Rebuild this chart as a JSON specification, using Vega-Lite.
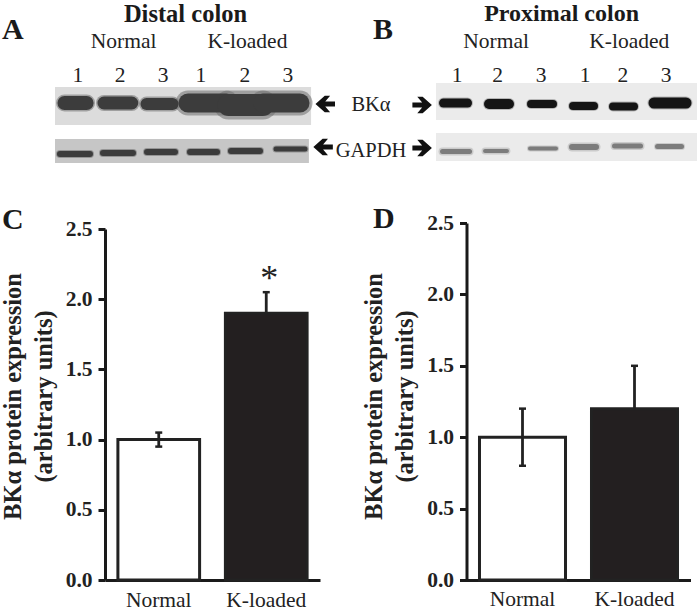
{
"$schema":"https://vega.github.io/schema/vega-lite/v6.json",
"padding":{"left":0,"top":0,"right":0,"bottom":0},
"background":"white",
"bounds":"flush",
"spacing":361.5,
"config":{"view":{"stroke":null},"text":{"font":"Liberation Serif","color":"#222222","baseline":"alphabetic"},"title":{"font":"Liberation Serif","color":"#1a1a1a"}},
"datasets":{
"a_bg":[{"protein":"BKα","x1":0.465,"x2":6.42,"y1":8.7,"y2":12.5,"tone":"BK"},{"protein":"GAPDH","x1":0.465,"x2":6.37,"y1":13.9,"y2":16.3,"tone":"G"}],
"a_bands":[
{"protein":"BKα","group":"Normal","lane":1,"start":0.686,"end":1.2,"mig":10.3,"signal":14,"spread":17},
{"protein":"BKα","group":"Normal","lane":2,"start":1.605,"end":2.25,"mig":10.3,"signal":13,"spread":16},
{"protein":"BKα","group":"Normal","lane":3,"start":2.593,"end":3.2,"mig":10.4,"signal":12,"spread":15},
{"protein":"BKα","group":"K-loaded","lane":1,"start":3.558,"end":4.45,"mig":10.3,"signal":19,"spread":25},
{"protein":"BKα","group":"K-loaded","lane":2,"start":4.5,"end":5.3,"mig":10.5,"signal":22,"spread":29},
{"protein":"BKα","group":"K-loaded","lane":3,"start":5.3,"end":6.163,"mig":10.3,"signal":19,"spread":25},
{"protein":"GAPDH","group":"Normal","lane":1,"start":0.581,"end":1.279,"mig":15.4,"signal":6,"spread":8},
{"protein":"GAPDH","group":"Normal","lane":2,"start":1.581,"end":2.279,"mig":15.3,"signal":6,"spread":8},
{"protein":"GAPDH","group":"Normal","lane":3,"start":2.605,"end":3.256,"mig":15.2,"signal":6,"spread":8},
{"protein":"GAPDH","group":"K-loaded","lane":1,"start":3.605,"end":4.233,"mig":15.2,"signal":6,"spread":8},
{"protein":"GAPDH","group":"K-loaded","lane":2,"start":4.558,"end":5.233,"mig":15.1,"signal":6,"spread":8},
{"protein":"GAPDH","group":"K-loaded","lane":3,"start":5.605,"end":6.279,"mig":14.9,"signal":5,"spread":7}],
"b_bg":[{"protein":"BKα","x1":0.5,"x2":6.714,"y1":8.3,"y2":12.0},{"protein":"GAPDH","x1":0.5,"x2":6.714,"y1":13.3,"y2":16.1}],
"b_bands":[
{"protein":"BKα","group":"Normal","lane":1,"start":0.679,"end":1.25,"mig":10.3,"signal":9,"spread":11},
{"protein":"BKα","group":"Normal","lane":2,"start":1.762,"end":2.238,"mig":10.4,"signal":10,"spread":12},
{"protein":"BKα","group":"Normal","lane":3,"start":2.762,"end":3.286,"mig":10.4,"signal":8,"spread":10},
{"protein":"BKα","group":"K-loaded","lane":1,"start":3.762,"end":4.262,"mig":10.6,"signal":8,"spread":10},
{"protein":"BKα","group":"K-loaded","lane":2,"start":4.714,"end":5.214,"mig":10.65,"signal":8,"spread":10},
{"protein":"BKα","group":"K-loaded","lane":3,"start":5.69,"end":6.452,"mig":10.3,"signal":11,"spread":13},
{"protein":"GAPDH","group":"Normal","lane":1,"start":0.655,"end":1.298,"mig":15.15,"signal":5,"spread":8},
{"protein":"GAPDH","group":"Normal","lane":2,"start":1.667,"end":2.19,"mig":15.1,"signal":4,"spread":7},
{"protein":"GAPDH","group":"Normal","lane":3,"start":2.738,"end":3.357,"mig":14.85,"signal":4,"spread":6},
{"protein":"GAPDH","group":"K-loaded","lane":1,"start":3.738,"end":4.31,"mig":14.7,"signal":6,"spread":9},
{"protein":"GAPDH","group":"K-loaded","lane":2,"start":4.75,"end":5.369,"mig":14.6,"signal":5,"spread":8},
{"protein":"GAPDH","group":"K-loaded","lane":3,"start":5.774,"end":6.345,"mig":14.65,"signal":5,"spread":7}],
"c":[{"group":"Normal","mean":1.0,"low":0.95,"high":1.05},{"group":"K-loaded","mean":1.9,"low":1.9,"high":2.05,"note":"*"}],
"d":[{"group":"Normal","mean":1.0,"low":0.8,"high":1.2},{"group":"K-loaded","mean":1.2,"low":1.2,"high":1.5}]
},
"hconcat":[
{"bounds":"flush","spacing":49,"vconcat":[
{"width":215,"height":180,
"encoding":{"x":{"type":"quantitative","scale":{"domain":[1.628,6.628],"nice":false},"axis":null},"y":{"type":"quantitative","scale":{"domain":[0,18],"reverse":true,"nice":false},"axis":null}},
"layer":[
{"data":{"name":"a_bg"},"transform":[{"filter":"datum.protein=='BKα'"}],"mark":{"type":"rect","color":"#dcdcdc"},"encoding":{"x":{"field":"x1","type":"quantitative"},"x2":{"field":"x2"},"y":{"field":"y1","type":"quantitative"},"y2":{"field":"y2"}}},
{"data":{"name":"a_bg"},"transform":[{"filter":"datum.protein=='GAPDH'"}],"mark":{"type":"rect","color":"#c6c6c6"},"encoding":{"x":{"field":"x1","type":"quantitative"},"x2":{"field":"x2"},"y":{"field":"y1","type":"quantitative"},"y2":{"field":"y2"}}},
{"data":{"name":"a_bands"},"mark":{"type":"rule","strokeCap":"round","color":"#6e6e6e","opacity":0.55},"encoding":{"x":{"field":"start","type":"quantitative"},"x2":{"field":"end"},"y":{"field":"mig","type":"quantitative"},"size":{"field":"spread","type":"quantitative","scale":{"domain":[0,40],"range":[0,40]},"legend":null}}},
{"data":{"name":"a_bands"},"mark":{"type":"rule","strokeCap":"round","color":"#3c3c3c"},"encoding":{"x":{"field":"start","type":"quantitative"},"x2":{"field":"end"},"y":{"field":"mig","type":"quantitative"},"size":{"field":"signal","type":"quantitative","scale":{"domain":[0,40],"range":[0,40]},"legend":null}}},
{"data":{"values":[{"t":"Distal colon","x":3.5,"y":2.2}]},"mark":{"type":"text","fontSize":24.5,"fontWeight":"bold","color":"#1a1a1a"},"encoding":{"x":{"field":"x","type":"quantitative"},"y":{"field":"y","type":"quantitative"},"text":{"field":"t"}}},
{"data":{"values":[{"t":"Normal","x":2.06,"y":4.8},{"t":"K-loaded","x":4.94,"y":4.8},{"t":"1","x":1,"y":8.2},{"t":"2","x":1.98,"y":8.2},{"t":"3","x":2.98,"y":8.2},{"t":"1","x":3.86,"y":8.2},{"t":"2","x":4.88,"y":8.2},{"t":"3","x":5.88,"y":8.2}]},"mark":{"type":"text","fontSize":21.5},"encoding":{"x":{"field":"x","type":"quantitative"},"y":{"field":"y","type":"quantitative"},"text":{"field":"t"}}},
{"data":{"values":[{"t":"BKα","x":7.814,"y":11.1},{"t":"GAPDH","x":7.814,"y":15.7}]},"mark":{"type":"text","fontSize":20.5},"encoding":{"x":{"field":"x","type":"quantitative"},"y":{"field":"y","type":"quantitative"},"text":{"field":"t"}}},
{"data":{"values":[{"t":"A","x":-0.77,"y":3.9}]},"mark":{"type":"text","fontSize":30,"fontWeight":"bold","align":"left","color":"#1a1a1a"},"encoding":{"x":{"field":"x","type":"quantitative"},"y":{"field":"y","type":"quantitative"},"text":{"field":"t"}}},
{"data":{"values":[{"target":"BKα","x":6.75,"y":10.4},{"target":"GAPDH","x":6.7,"y":14.7}]},"mark":{"type":"point","filled":true,"opacity":1,"size":380,"color":"#111111","strokeWidth":0,"shape":"M-1,0 L-0.05,-0.85 L0.5,-0.85 L0,-0.25 L1,-0.25 L1,0.25 L0,0.25 L0.5,0.85 L-0.05,0.85 Z"},"encoding":{"x":{"field":"x","type":"quantitative"},"y":{"field":"y","type":"quantitative"}}}
]},
{"width":215,"height":351,
"title":{"text":"C","anchor":"start","frame":"group","dx":-103,"dy":41,"offset":0,"fontSize":30,"fontWeight":"bold","baseline":"alphabetic"},
"data":{"name":"c"},
"encoding":{"x":{"field":"group","type":"nominal","sort":["Normal","K-loaded"],"scale":{"paddingInner":0.24,"paddingOuter":0.12},"axis":{"title":null,"labelAngle":0,"labelFont":"Liberation Serif","labelFontSize":21.5,"labelColor":"#222222","ticks":false,"domainWidth":3,"domainColor":"#1a1a1a","labelPadding":9}}},
"layer":[
{"mark":{"type":"bar","strokeWidth":3,"stroke":"#222222"},"encoding":{"y":{"field":"mean","type":"quantitative","scale":{"domain":[0,2.5],"nice":false},"axis":{"values":[0,0.5,1,1.5,2,2.5],"format":".1f","title":["BKα protein expression","(arbitrary units)"],"titleFont":"Liberation Serif","titleFontSize":24.5,"titleFontWeight":"bold","titleColor":"#222222","titleLineHeight":31,"titleY":167,"titlePadding":9,"labelFont":"Liberation Serif","labelFontSize":21.5,"labelFontWeight":"bold","labelColor":"#222222","tickSize":7,"tickWidth":3,"tickColor":"#1a1a1a","domainWidth":3,"domainColor":"#1a1a1a","labelPadding":6,"grid":false}},"color":{"field":"group","type":"nominal","scale":{"domain":["Normal","K-loaded"],"range":["#ffffff","#231f20"]},"legend":null}}},
{"mark":{"type":"rule","strokeWidth":2.8,"color":"#222222"},"encoding":{"y":{"field":"low","type":"quantitative","scale":{"domain":[0,2.5],"nice":false}},"y2":{"field":"high"}}},
{"mark":{"type":"tick","size":7,"thickness":2.5,"color":"#222222","opacity":1},"encoding":{"y":{"field":"high","type":"quantitative","scale":{"domain":[0,2.5],"nice":false}}}},
{"transform":[{"filter":"datum.group=='Normal'"}],"mark":{"type":"tick","size":7,"thickness":2.5,"color":"#222222","opacity":1},"encoding":{"y":{"field":"low","type":"quantitative","scale":{"domain":[0,2.5],"nice":false}}}},
{"transform":[{"filter":"datum.note"}],"mark":{"type":"text","fontSize":36,"dx":3,"dy":-2,"baseline":"alphabetic"},"encoding":{"y":{"field":"high","type":"quantitative","scale":{"domain":[0,2.5],"nice":false}},"text":{"field":"note"}}}
]}
]},
{"bounds":"flush","spacing":43,"vconcat":[
{"width":224,"height":180,
"encoding":{"x":{"type":"quantitative","scale":{"domain":[1.226,6.559],"nice":false},"axis":null},"y":{"type":"quantitative","scale":{"domain":[0,18],"reverse":true,"nice":false},"axis":null}},
"layer":[
{"data":{"name":"b_bg"},"mark":{"type":"rect","color":"#ebebeb"},"encoding":{"x":{"field":"x1","type":"quantitative"},"x2":{"field":"x2"},"y":{"field":"y1","type":"quantitative"},"y2":{"field":"y2"}}},
{"data":{"name":"b_bands"},"transform":[{"filter":"datum.protein=='BKα'"}],"mark":{"type":"rule","strokeCap":"round","color":"#666666","opacity":0.4},"encoding":{"x":{"field":"start","type":"quantitative"},"x2":{"field":"end"},"y":{"field":"mig","type":"quantitative"},"size":{"field":"spread","type":"quantitative","scale":{"domain":[0,40],"range":[0,40]},"legend":null}}},
{"data":{"name":"b_bands"},"transform":[{"filter":"datum.protein=='BKα'"}],"mark":{"type":"rule","strokeCap":"round","color":"#141414"},"encoding":{"x":{"field":"start","type":"quantitative"},"x2":{"field":"end"},"y":{"field":"mig","type":"quantitative"},"size":{"field":"signal","type":"quantitative","scale":{"domain":[0,40],"range":[0,40]},"legend":null}}},
{"data":{"name":"b_bands"},"transform":[{"filter":"datum.protein=='GAPDH'"}],"mark":{"type":"rule","strokeCap":"round","color":"#b5b5b5","opacity":0.6},"encoding":{"x":{"field":"start","type":"quantitative"},"x2":{"field":"end"},"y":{"field":"mig","type":"quantitative"},"size":{"field":"spread","type":"quantitative","scale":{"domain":[0,40],"range":[0,40]},"legend":null}}},
{"data":{"name":"b_bands"},"transform":[{"filter":"datum.protein=='GAPDH'"}],"mark":{"type":"rule","strokeCap":"round","color":"#7c7c7c"},"encoding":{"x":{"field":"start","type":"quantitative"},"x2":{"field":"end"},"y":{"field":"mig","type":"quantitative"},"size":{"field":"signal","type":"quantitative","scale":{"domain":[0,40],"range":[0,40]},"legend":null}}},
{"data":{"values":[{"t":"Proximal colon","x":3.49,"y":2.1}]},"mark":{"type":"text","fontSize":24,"fontWeight":"bold","color":"#1a1a1a"},"encoding":{"x":{"field":"x","type":"quantitative"},"y":{"field":"y","type":"quantitative"},"text":{"field":"t"}}},
{"data":{"values":[{"t":"Normal","x":1.93,"y":4.8},{"t":"K-loaded","x":5.1,"y":4.8},{"t":"1","x":1,"y":8.2},{"t":"2","x":1.97,"y":8.2},{"t":"3","x":3,"y":8.2},{"t":"1","x":4.05,"y":8.2},{"t":"2","x":4.95,"y":8.2},{"t":"3","x":5.98,"y":8.2}]},"mark":{"type":"text","fontSize":21.5},"encoding":{"x":{"field":"x","type":"quantitative"},"y":{"field":"y","type":"quantitative"},"text":{"field":"t"}}},
{"data":{"values":[{"t":"B","x":-1.0,"y":3.9}]},"mark":{"type":"text","fontSize":30,"fontWeight":"bold","align":"left","color":"#1a1a1a"},"encoding":{"x":{"field":"x","type":"quantitative"},"y":{"field":"y","type":"quantitative"},"text":{"field":"t"}}},
{"data":{"values":[{"target":"BKα","x":0.17,"y":10.5},{"target":"GAPDH","x":0.17,"y":14.8}]},"mark":{"type":"point","filled":true,"opacity":1,"size":380,"color":"#111111","strokeWidth":0,"shape":"M1,0 L0.05,-0.85 L-0.5,-0.85 L0,-0.25 L-1,-0.25 L-1,0.25 L0,0.25 L-0.5,0.85 L0.05,0.85 Z"},"encoding":{"x":{"field":"x","type":"quantitative"},"y":{"field":"y","type":"quantitative"}}}
]},
{"width":224,"height":357,
"title":{"text":"D","anchor":"start","frame":"group","dx":-93.5,"dy":46,"offset":0,"fontSize":30,"fontWeight":"bold","baseline":"alphabetic"},
"data":{"name":"d"},
"encoding":{"x":{"field":"group","type":"nominal","sort":["Normal","K-loaded"],"scale":{"paddingInner":0.232,"paddingOuter":0.116},"axis":{"title":null,"labelAngle":0,"labelFont":"Liberation Serif","labelFontSize":21.5,"labelColor":"#222222","ticks":false,"domainWidth":3,"domainColor":"#1a1a1a","labelPadding":8}}},
"layer":[
{"mark":{"type":"bar","strokeWidth":3,"stroke":"#222222"},"encoding":{"y":{"field":"mean","type":"quantitative","scale":{"domain":[0,2.5],"nice":false},"axis":{"values":[0,0.5,1,1.5,2,2.5],"format":".1f","title":["BKα protein expression","(arbitrary units)"],"titleFont":"Liberation Serif","titleFontSize":24.5,"titleFontWeight":"bold","titleColor":"#222222","titleLineHeight":31,"titleY":173,"titlePadding":9,"labelFont":"Liberation Serif","labelFontSize":21.5,"labelFontWeight":"bold","labelColor":"#222222","tickSize":7,"tickWidth":3,"tickColor":"#1a1a1a","domainWidth":3,"domainColor":"#1a1a1a","labelPadding":6,"grid":false}},"color":{"field":"group","type":"nominal","scale":{"domain":["Normal","K-loaded"],"range":["#ffffff","#231f20"]},"legend":null}}},
{"mark":{"type":"rule","strokeWidth":2.8,"color":"#222222"},"encoding":{"y":{"field":"low","type":"quantitative","scale":{"domain":[0,2.5],"nice":false}},"y2":{"field":"high"}}},
{"mark":{"type":"tick","size":7,"thickness":2.5,"color":"#222222","opacity":1},"encoding":{"y":{"field":"high","type":"quantitative","scale":{"domain":[0,2.5],"nice":false}}}},
{"transform":[{"filter":"datum.group=='Normal'"}],"mark":{"type":"tick","size":7,"thickness":2.5,"color":"#222222","opacity":1},"encoding":{"y":{"field":"low","type":"quantitative","scale":{"domain":[0,2.5],"nice":false}}}}
]}
]}
]
}
